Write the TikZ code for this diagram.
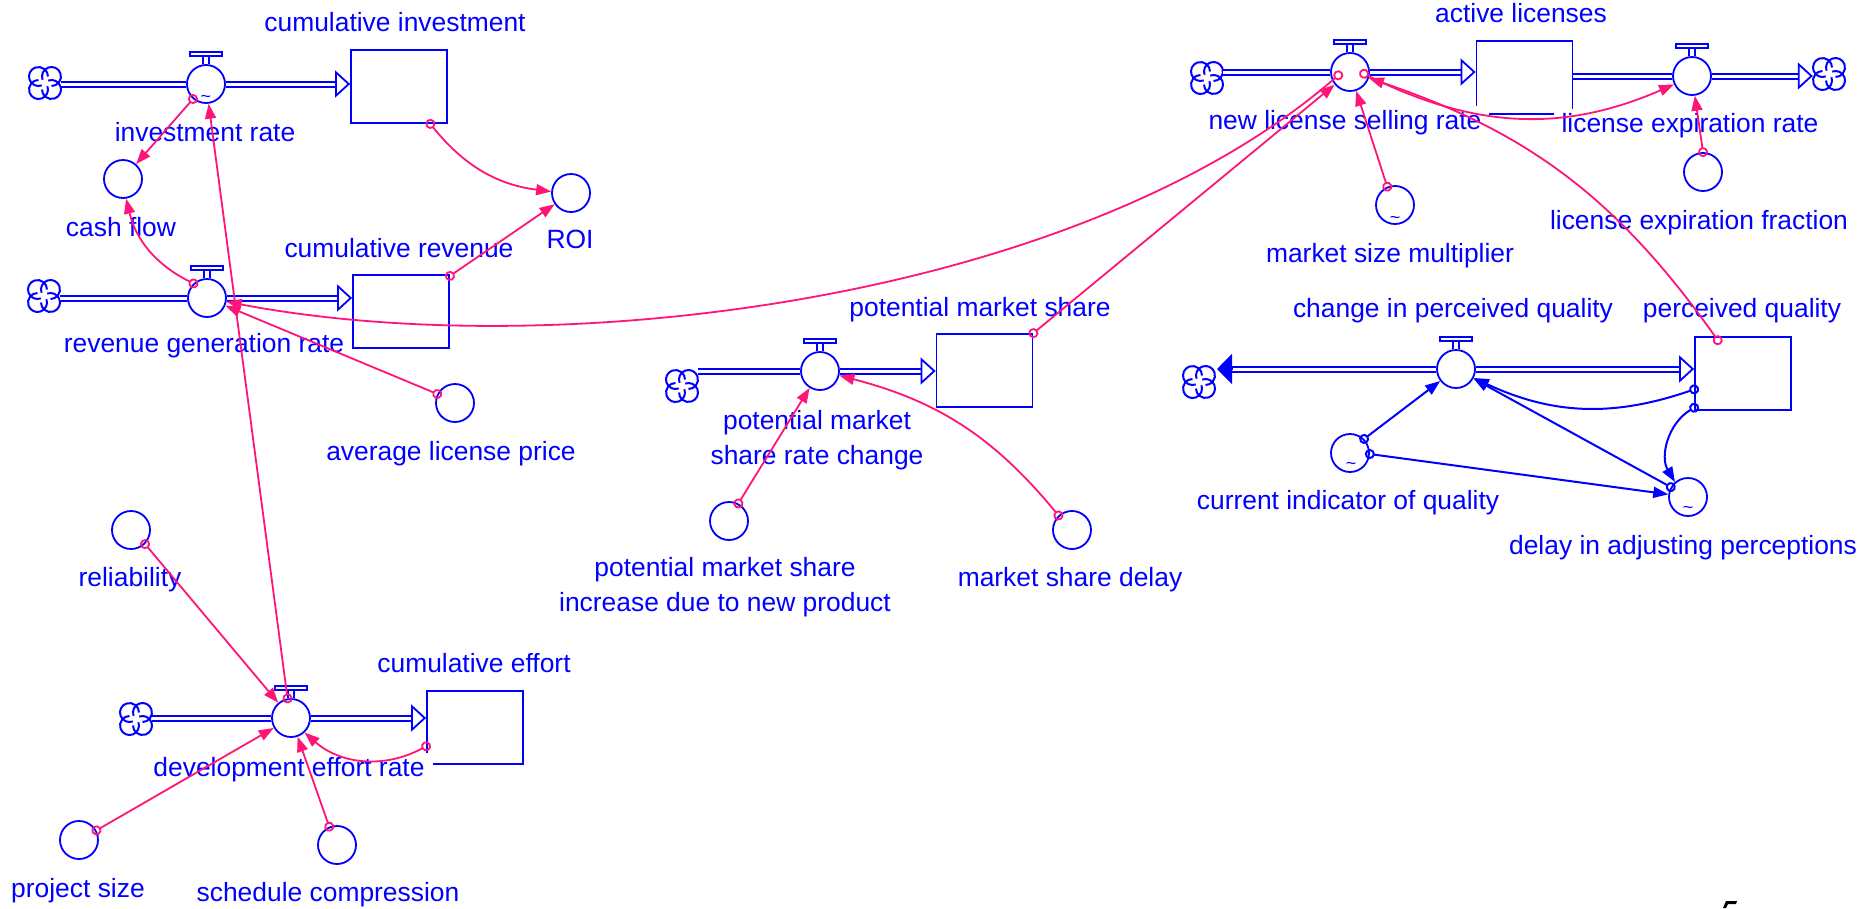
\documentclass[tikz,border=0pt]{standalone}
\usepackage{fontspec}
\setmainfont{Liberation Sans}
\usetikzlibrary{arrows.meta}
\definecolor{vblue}{RGB}{0,0,255}
\definecolor{vpink}{RGB}{255,20,120}

\tikzset{
  stock/.style={draw=vblue, line width=1.8pt, minimum width=96pt, minimum height=73pt, inner sep=0pt},
  valve/.style={circle, draw=vblue, fill=white, line width=1.8pt, minimum size=38pt, inner sep=0pt},
  aux/.style={circle, draw=vblue, line width=1.8pt, minimum size=38pt, inner sep=0pt},
  cloudbox/.style={minimum size=32pt, inner sep=0pt},
  pipe/.style={draw=vblue, line width=2pt, double=white, double distance=3pt},
  pipehead/.style={draw=vblue, line width=1.8pt, -{Triangle[open, length=15pt, width=27pt]}},
  sinkhead/.style={draw=vblue, line width=1.8pt, -{Triangle[length=15pt, width=30pt]}},
  handle/.style={draw=vblue, line width=1.6pt},
  lbl/.style={text=vblue, fill=white, inner xsep=8pt, inner ysep=5pt, text height=19pt, text depth=5.5pt,
    font=\fontsize{26.4}{35}\selectfont},
  lbl2/.style={text=vblue, fill=white, inner xsep=8pt, inner ysep=5pt, align=center,
    font=\fontsize{26.4}{35}\selectfont},
  tld/.style={text=vblue, inner sep=0pt, font=\fontsize{18}{18}\selectfont},
  link/.style={draw=vpink, line width=1.8pt,
    {Circle[open, length=10pt, width=10pt]}-{Triangle[length=15pt, width=11pt]}, shorten <=-5pt},
  blink/.style={link, draw=vblue, line width=2pt},
  swirl/.pic={
    \foreach \a in {0,90,180,270}
      \draw[vblue, line width=2pt, rotate=\a] (200:9.5pt) ++(6.5pt,6.5pt) arc[start angle=200, end angle=-90, radius=9.5pt];
  }
}

\begin{document}
\begin{tikzpicture}[x=1pt, y=-1pt]
\fill[white] (0,0) rectangle (1870,908);
\useasboundingbox (0,0) rectangle (1870,908);

% investment
\node[cloudbox] (cl1) at (45,83) {};
\node[valve] (ir) at (206,84) {};
\node[stock] (ci) at (399,86.5) {};
\node[aux] (cf) at (123,179) {};
\node[aux] (roi) at (571,193) {};
% revenue
\node[cloudbox] (cl2) at (44,296) {};
\node[valve] (rgr) at (207,298) {};
\node[stock] (cr) at (401,311.5) {};
\node[aux] (alp) at (455,403) {};
% effort
\node[aux] (rel) at (131,530) {};
\node[cloudbox] (cl3) at (136,719) {};
\node[valve] (der) at (291,718) {};
\node[stock] (ce) at (475,727.5) {};
\node[aux] (ps) at (79,840) {};
\node[aux] (sc) at (337,845) {};
% market share
\node[cloudbox] (cl4) at (682,386) {};
\node[valve] (pmsrc) at (820,371) {};
\node[stock] (pms) at (984.5,370.5) {};
\node[aux] (pmsi) at (729,521) {};
\node[aux] (msd) at (1072,530) {};
% licenses
\node[cloudbox] (cl6) at (1207,78) {};
\node[valve] (nlsr) at (1350,72) {};
\node[stock] (al) at (1524.5,77.5) {};
\node[valve] (ler) at (1692,76) {};
\node[cloudbox] (cl5) at (1829,74) {};
\node[aux] (msm) at (1395,205) {};
\node[aux] (lef) at (1703,172) {};
% perceived quality
\node[cloudbox] (cl7) at (1199,382) {};
\node[valve] (cpq) at (1456,369) {};
\node[stock] (pq) at (1743,373.5) {};
\node[aux] (ciq) at (1350,453) {};
\node[aux] (dap) at (1688,497) {};

% clouds and valve handles
\foreach \c in {cl1,cl2,cl3,cl4,cl5,cl6,cl7}
  \pic at (\c) {swirl};
\foreach \v in {ir,rgr,der,pmsrc,nlsr,ler,cpq}{
  \draw[handle] ([xshift=-3pt]\v.north) -- ++(0,-8) ([xshift=3pt]\v.north) -- ++(0,-8);
  \draw[handle, fill=white] ([xshift=-16pt,yshift=8pt]\v.north) rectangle ++(32,-4);
}
\node[tld] (tl1) at (206,99) {\textasciitilde};
\node[tld] (tl2) at (1395,220) {\textasciitilde};
\node[tld] (tl3) at (1351,466) {\textasciitilde};
\node[tld] (tl4) at (1688,510) {\textasciitilde};

% pipes
\foreach \c/\v in {cl1/ir, cl2/rgr, cl3/der, cl4/pmsrc, cl6/nlsr}
  \draw[pipe] (\c.east |- \v) -- (\v);
\foreach \v/\s in {ir/ci, rgr/cr, der/ce, pmsrc/pms, nlsr/al, cpq/pq}{
  \coordinate (tip) at (\v -| \s.west);
  \draw[pipe, shorten >=14pt] (\v) -- (tip);
  \draw[pipehead] ([xshift=-15pt]tip) -- (tip);
}
\draw[pipe] (al.east |- ler) -- (ler);
\coordinate (lert) at (cl5.west |- ler);
\draw[pipe, shorten >=14pt] (ler) -- (lert);
\draw[pipehead] ([xshift=-15pt]lert) -- (lert);
\coordinate (snk) at (1217,369);
\draw[pipe, shorten >=14pt] (cpq) -- (snk);
\draw[sinkhead] ([xshift=15pt]snk) -- (snk);

% labels
\node[lbl] (tci) at (395,25) {cumulative investment};
\node[lbl] (tir) at (205,135) {investment rate};
\node[lbl] (tcf) at (121,230) {cash flow};
\node[lbl] (troi) at (570,242) {ROI};
\node[lbl] (tcr) at (399,251) {cumulative revenue};
\node[lbl] (trgr) at (204,346) {revenue generation rate};
\node[lbl] (talp) at (451,454) {average license price};
\node[lbl] (trel) at (130,580) {reliability};
\node[lbl] (tce) at (474,666) {cumulative effort};
\node[lbl] (tder) at (289,770) {development effort rate};
\node[lbl] (tps) at (78,891) {project size};
\node[lbl] (tsc) at (328,895) {schedule compression};
\node[lbl] (tpms) at (980,310) {potential market share};
\node[lbl2] (tpmsrc) at (817,440) {potential market\\share rate change};
\node[lbl2] (tpmsi) at (725,587) {potential market share\\increase due to new product};
\node[lbl] (tmsd) at (1070,580) {market share delay};
\node[lbl] (tal) at (1521,16) {active licenses};
\node[lbl] (tnlsr) at (1345,123) {new license selling rate};
\node[lbl] (tler) at (1690,126) {license expiration rate};
\node[lbl] (tmsm) at (1390,256) {market size multiplier};
\node[lbl] (tlef) at (1699,223) {license expiration fraction};
\node[lbl] (tcpq) at (1453,311) {change in perceived quality};
\node[lbl] (tpq) at (1742,311) {perceived quality};
\node[lbl] (tciq) at (1348,503) {current indicator of quality};
\node[lbl] (tdap) at (1683,548) {delay in adjusting perceptions};

% links
\draw[link] (ir.229) -- (cf);
\draw[link] (rgr.133) to[bend left=25] (cf);
\draw[link] (ci.-50) to[bend right=22] (roi);
\draw[link] (cr.36) -- (roi);
\draw[link] (alp.153) -- (rgr);
\draw[link] (der.100) -- (ir);
\draw[link] (rel.-45) -- (der);
\draw[link] (ce.201) to[bend left=35] (der);
\draw[link] (ps.29) -- (der);
\draw[link] (sc.113) -- (der);
\draw[link] (pmsi.62) -- (pmsrc);
\draw[link] (msd.133) to[bend right=18] (pmsrc);
\draw[link] (pms.north east) -- (nlsr);
\draw[link, shorten <=0pt] ([xshift=-8pt]nlsr.center) .. controls (1080,300) and (560,365) .. (rgr);
\draw[link, shorten <=-11pt] (nlsr.-13) to[bend right=25] (ler);
\draw[link] (msm.113) -- (nlsr);
\draw[link, shorten <=-10pt] (pq.127) to[bend right=18] (nlsr);
\draw[link] (lef.90) -- (ler);
\draw[blink] (ciq.45) -- (cpq);
\draw[blink] (ciq.-3) -- (dap);
\draw[blink] (dap.150) -- (cpq);
\draw[blink] (pq.198) to[bend left=22] (cpq);
\draw[blink] (pq.215) to[bend right=45] (dap);

% stray mark
\fill[black] (1723,908) -- (1726,901) -- (1737,901) -- (1736,904) -- (1728,904) -- (1726,908) -- cycle;
\end{tikzpicture}
\end{document}
